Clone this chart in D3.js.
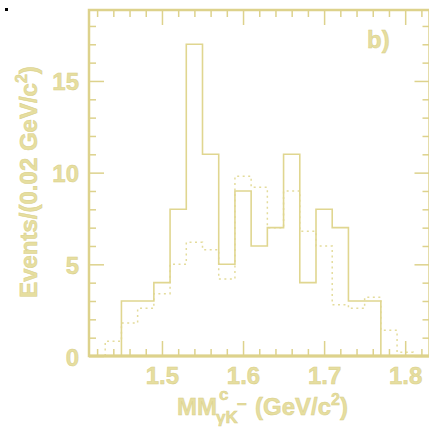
<!DOCTYPE html>
<html>
<head>
<meta charset="utf-8">
<script src="https://cdn.jsdelivr.net/npm/d3@7"></script>
<style>
  body { margin: 0; background: #fff; }
  svg { display: block; }
  text { font-family: "Liberation Sans", Arial, sans-serif; font-weight: bold; }
</style>
</head>
<body>
<svg id="chart" width="429" height="428"></svg>
<script>
// bin low edges (bin width 0.02 GeV/c^2)
const binEdges = [1.43, 1.45, 1.47, 1.49, 1.51, 1.53, 1.55, 1.57, 1.59, 1.61,
  1.63, 1.65, 1.67, 1.69, 1.71, 1.73, 1.75, 1.77, 1.79, 1.81];
// data (solid) and MC / background shape (dotted)
const dataCounts = [0, 3, 3, 4, 8, 17, 11, 5, 9, 6, 7, 11, 4, 8, 7, 3, 3, 0, 0];
const mcCounts = [0.8, 1.8, 2.6, 3.4, 5.0, 6.2, 5.8, 4.2, 9.8, 9.2, 7.0, 9.0,
  6.8, 6.0, 2.8, 2.6, 3.2, 1.4, 0.2];
const xTickValues = [1.5, 1.6, 1.7, 1.8];
const xTickLabels = ["1.5", "1.6", "1.7", "1.8"];
const yTickValues = [0, 5, 10, 15];
const yTickLabels = ["0", "5", "10", "15"];

const frameColor = "#ddd28c";
const lineColor = "#e0d690";
const textColor = "#e6dea0";

const plotLeft = 89, plotRight = 429.5, plotTop = 10, plotBottom = 356;

const svg = d3.select("#chart");

const xScale = d3.scaleLinear().domain([1.41, 1.83]).range([plotLeft, plotRight]);
const yScale = d3.scaleLinear().domain([0, 18.87]).range([plotBottom, plotTop]);

// histograms
function stepPoints(counts) {
  const pts = [[binEdges[0], 0]];
  counts.forEach((c, i) => pts.push([binEdges[i], c]));
  pts.push([binEdges[counts.length], 0]);
  return pts;
}
const line = d3
  .line()
  .x((d) => xScale(d[0]))
  .y((d) => yScale(d[1]))
  .curve(d3.curveStepAfter);

svg
  .append("path")
  .attr("d", line(stepPoints(mcCounts)))
  .attr("fill", "none")
  .attr("stroke", "#e4dc9c")
  .attr("stroke-width", 1.5)
  .attr("stroke-dasharray", "2,3.5");

svg
  .append("path")
  .attr("d", line(stepPoints(dataCounts)))
  .attr("fill", "none")
  .attr("stroke", lineColor)
  .attr("stroke-width", 1.6);

// axes / ticks
const xMinor = d3.range(1.42, 1.83, 0.02).filter(
  (v) => !xTickValues.some((t) => Math.abs(t - v) < 1e-6)
);
const yMinor = d3.range(1, 19, 1).filter((v) => v % 5 !== 0);

function styleAxis(g) {
  g.select(".domain").remove();
  g.selectAll("line").attr("stroke", frameColor).attr("stroke-width", 1.5);
  g.selectAll("text")
    .attr("fill", textColor)
    .attr("stroke", "#d9cf88")
    .attr("stroke-width", 0.5)
    .style("font-size", "24px")
    .style("font-family", "Liberation Sans, Arial, sans-serif")
    .style("font-weight", "bold");
}

// bottom
svg.append("g")
  .attr("transform", `translate(0,${plotBottom})`)
  .call(d3.axisBottom(xScale).tickValues(xTickValues)
    .tickFormat((d, i) => xTickLabels[i]).tickSize(-15).tickPadding(10))
  .call(styleAxis)
  .call((g) => g.selectAll("text").attr("y", 28).attr("dy", 0));
svg.append("g")
  .attr("transform", `translate(0,${plotBottom})`)
  .call(d3.axisBottom(xScale).tickValues(xMinor).tickFormat("").tickSize(-7))
  .call(styleAxis);
// top
svg.append("g")
  .attr("transform", `translate(0,${plotTop})`)
  .call(d3.axisTop(xScale).tickValues(xTickValues).tickFormat("").tickSize(-15))
  .call(styleAxis);
svg.append("g")
  .attr("transform", `translate(0,${plotTop})`)
  .call(d3.axisTop(xScale).tickValues(xMinor).tickFormat("").tickSize(-7))
  .call(styleAxis);
// left
svg.append("g")
  .attr("transform", `translate(${plotLeft},0)`)
  .call(d3.axisLeft(yScale).tickValues(yTickValues)
    .tickFormat((d, i) => yTickLabels[i]).tickSize(-15).tickPadding(10))
  .call(styleAxis)
  .call((g) => g.selectAll("text").attr("dy", 9));
svg.append("g")
  .attr("transform", `translate(${plotLeft},0)`)
  .call(d3.axisLeft(yScale).tickValues(yMinor).tickFormat("").tickSize(-7))
  .call(styleAxis);
// right
svg.append("g")
  .attr("transform", `translate(${plotRight},0)`)
  .call(d3.axisRight(yScale).tickValues(yTickValues).tickFormat("").tickSize(-15))
  .call(styleAxis);
svg.append("g")
  .attr("transform", `translate(${plotRight},0)`)
  .call(d3.axisRight(yScale).tickValues(yMinor).tickFormat("").tickSize(-7))
  .call(styleAxis);

// frame
svg.append("rect")
  .attr("x", plotLeft).attr("y", plotTop)
  .attr("width", plotRight - plotLeft).attr("height", plotBottom - plotTop)
  .attr("fill", "none")
  .attr("stroke", frameColor)
  .attr("stroke-width", 2.5);
svg.append("line")
  .attr("x1", plotLeft).attr("x2", plotRight)
  .attr("y1", plotBottom).attr("y2", plotBottom)
  .attr("stroke", frameColor).attr("stroke-width", 3);

// labels
function label(x, y, txt, size) {
  return svg.append("text")
    .attr("x", x).attr("y", y)
    .attr("fill", textColor)
    .attr("stroke", "#d9cf88")
    .attr("stroke-width", 0.5)
    .style("font-size", size + "px")
    .text(txt);
}

label(367, 48, "b)", 24);

// x title: MM^c_{γK^-} (GeV/c^2)
label(177, 415, "MM", 24);
label(219, 400, "c", 17);
label(216, 423, "γK", 17);
label(237, 410, "−", 17);
const xt = label(255, 415, "(GeV/c", 24);
xt.append("tspan").attr("dy", -10).style("font-size", "16px").text("2");
xt.append("tspan").attr("dy", 10).text(")");

// y title
const yt = svg.append("text")
  .attr("transform", "translate(37,182) rotate(-90)")
  .attr("text-anchor", "middle")
  .attr("fill", textColor)
  .attr("stroke", "#d9cf88")
  .attr("stroke-width", 0.5)
  .style("font-size", "24px")
  .text("Events/(0.02 GeV/c");
yt.append("tspan").attr("dy", -10).style("font-size", "16px").text("2");
yt.append("tspan").attr("dy", 10).text(")");

// small marker in the corner
svg.append("rect")
  .attr("x", 5).attr("y", 8).attr("width", 3).attr("height", 3)
  .attr("fill", "#000");
</script>
</body>
</html>
